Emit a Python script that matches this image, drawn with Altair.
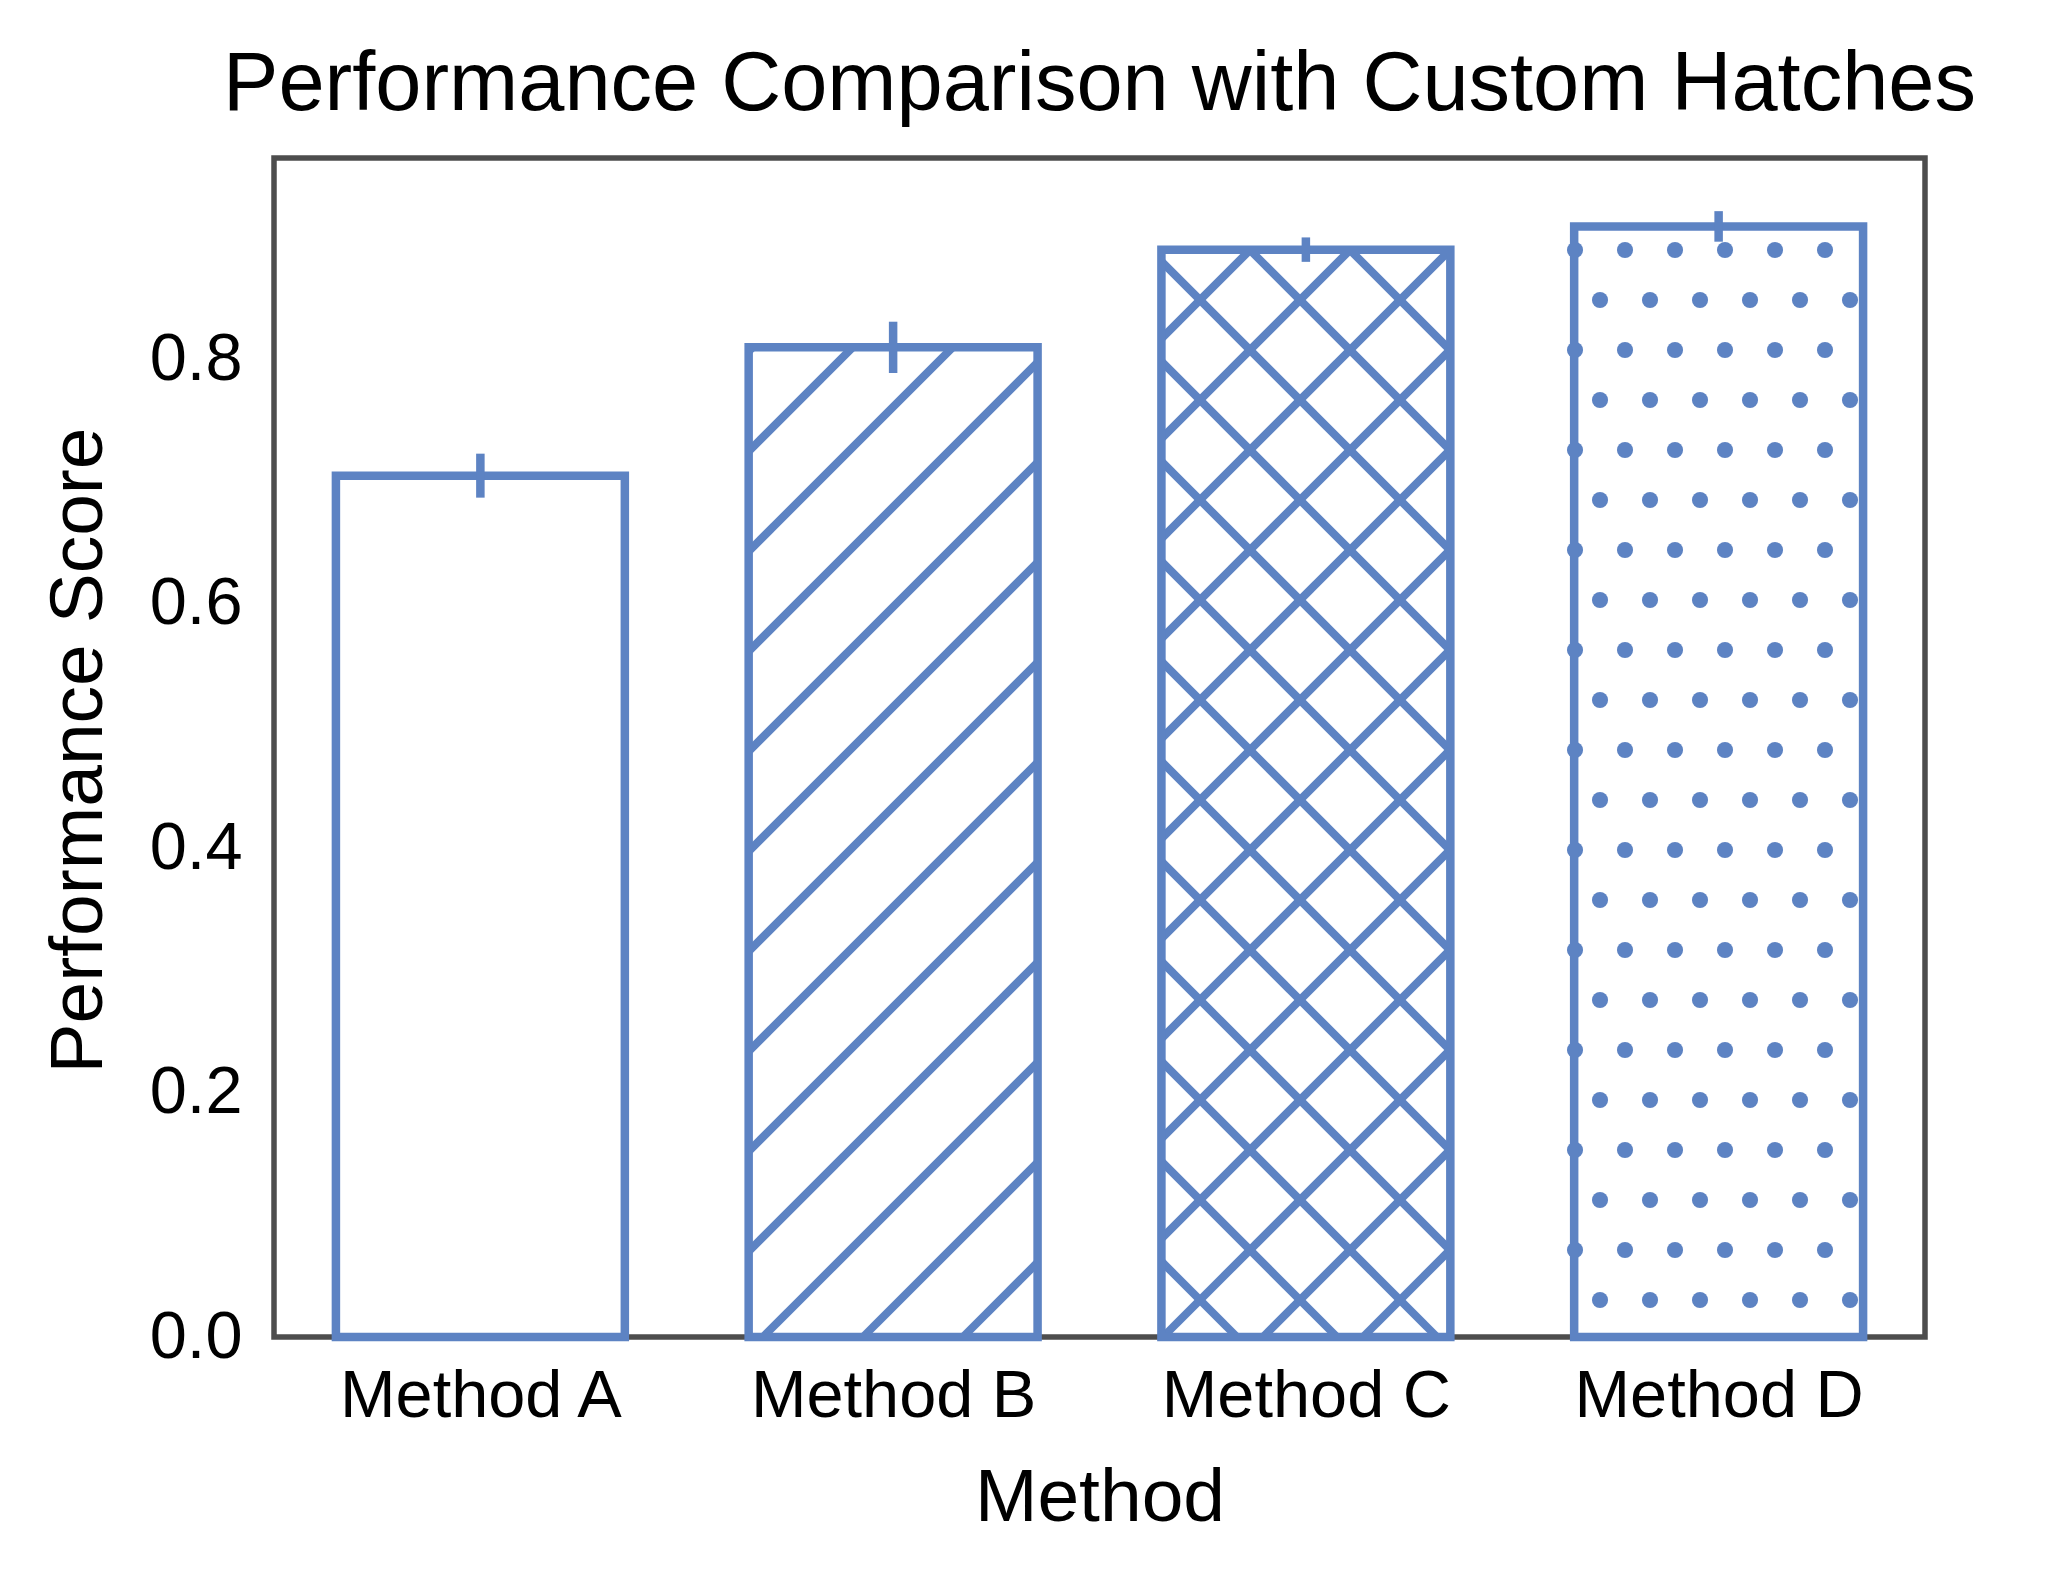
import math
import altair as alt
import pandas as pd

# ---------------- data ----------------
methods = ["Method A", "Method B", "Method C", "Method D"]
scores = [0.705, 0.81, 0.89, 0.909]
errors = [0.018, 0.021, 0.010, 0.0125]
hatches = ["", "/", "x", "."]
y_ticks = [0.0, 0.2, 0.4, 0.6, 0.8]

# ---------------- style / layout ----------------
BLUE = "#5d83c3"
FRAME = "#4d4d4d"
FONT = "Liberation Sans"
W, H = 1651, 1179
PAD_L, PAD_T = 266, 150
OX, OY = PAD_L + 8, PAD_T + 8          # page offset of the plot area (pattern phase)
X_DOM = [-0.5, 3.5]
Y_DOM = [0.0, 0.965]
BAR_W = 0.7
HATCH_STEP = 100   # px between hatch lines
DOT_STEP = 50      # px between dots
EDGE_W = 8.5
HATCH_W = 8.0
DOT_AREA = 260


def px_x(v):
    return (v - X_DOM[0]) / (X_DOM[1] - X_DOM[0]) * W


def px_y(v):
    return H - (v - Y_DOM[0]) / (Y_DOM[1] - Y_DOM[0]) * H


def dat_x(p):
    return X_DOM[0] + p / W * (X_DOM[1] - X_DOM[0])


def dat_y(p):
    return Y_DOM[0] + (H - p) / H * (Y_DOM[1] - Y_DOM[0])


bars = pd.DataFrame({
    "method": methods,
    "xc": list(range(len(methods))),
    "x0": [i - BAR_W / 2 for i in range(len(methods))],
    "x1": [i + BAR_W / 2 for i in range(len(methods))],
    "score": scores,
    "base": [0.0] * len(methods),
    "lo": [s - e for s, e in zip(scores, errors)],
    "hi": [s + e for s, e in zip(scores, errors)],
})

# hatch geometry derived from each bar's rectangle (pattern in pixel space)
segs = []
dots = []
for i, (s, h) in enumerate(zip(scores, hatches)):
    x0, x1 = px_x(i - BAR_W / 2), px_x(i + BAR_W / 2)
    y0, y1 = px_y(s), px_y(0.0)
    if "/" in h or "x" in h:
        kmin = math.ceil((x0 + y0 + OX + OY) / HATCH_STEP)
        kmax = math.floor((x1 + y1 + OX + OY) / HATCH_STEP)
        for k in range(kmin, kmax + 1):
            c = k * HATCH_STEP - OX - OY       # px + py = c
            xs, xe = max(x0, c - y1), min(x1, c - y0)
            if xe - xs > 0.5:
                segs.append({"x": dat_x(xs), "y": dat_y(c - xs),
                             "x2": dat_x(xe), "y2": dat_y(c - xe)})
    if "x" in h:
        kmin = math.ceil((y0 - x1 + OY - OX) / HATCH_STEP)
        kmax = math.floor((y1 - x0 + OY - OX) / HATCH_STEP)
        for k in range(kmin, kmax + 1):
            c = k * HATCH_STEP - OY + OX       # py - px = c
            xs, xe = max(x0, y0 - c), min(x1, y1 - c)
            if xe - xs > 0.5:
                segs.append({"x": dat_x(xs), "y": dat_y(xs + c),
                             "x2": dat_x(xe), "y2": dat_y(xe + c)})
    if "." in h:
        jmin = math.ceil((y0 + OY) / DOT_STEP)
        jmax = math.floor((y1 + OY) / DOT_STEP)
        for j in range(jmin, jmax + 1):
            gy = j * DOT_STEP
            off = DOT_STEP / 2 if j % 2 else 0
            imin = math.ceil((x0 + OX - off) / DOT_STEP)
            imax = math.floor((x1 + OX - off) / DOT_STEP)
            for ii in range(imin, imax + 1):
                gx = ii * DOT_STEP + off
                dots.append({"x": dat_x(gx - OX), "y": dat_y(gy - OY)})

seg_df = pd.DataFrame(segs)
dot_df = pd.DataFrame(dots)

label_expr = "[" + ",".join("'" + m + "'" for m in methods) + "][datum.value]"

xscale = alt.Scale(domain=X_DOM, nice=False, zero=False)
yscale = alt.Scale(domain=Y_DOM, nice=False, zero=False)

x_axis = alt.Axis(
    values=list(range(len(methods))), labelExpr=label_expr, labelAngle=0,
    labelFont=FONT, labelFontSize=66.7, labelColor="black", labelLimit=0,
    labelBaseline="alphabetic", labelPadding=79, labelFlush=False,
    labelOverlap=False,
    ticks=False, tickSize=0, domain=False, grid=False,
    title="Method", titleFont=FONT, titleFontSize=75, titleFontWeight="normal",
    titleColor="black", titleBaseline="alphabetic", titleY=183,
)
y_axis = alt.Axis(
    values=y_ticks, format=".1f",
    labelFont=FONT, labelFontSize=66.7, labelColor="black",
    labelPadding=32, labelFlush=False, labelOverlap=False,
    ticks=False, tickSize=0, domain=False, grid=False,
    title="Performance Score", titleFont=FONT, titleFontSize=75,
    titleFontWeight="normal", titleColor="black", titleAngle=270,
    titleBaseline="alphabetic", titleAlign="center", titleX=-173, titleY=592,
)

fill = alt.Chart(bars).mark_rect(fill="white", strokeWidth=0).encode(
    x=alt.X("x0:Q", scale=xscale, axis=x_axis),
    x2="x1:Q",
    y=alt.Y("score:Q", scale=yscale, axis=y_axis),
    y2="base:Q",
)

hatch_lines = alt.Chart(seg_df).mark_rule(
    color=BLUE, strokeWidth=HATCH_W, strokeCap="butt"
).encode(
    x=alt.X("x:Q", scale=xscale, axis=x_axis),
    y=alt.Y("y:Q", scale=yscale, axis=y_axis),
    x2="x2:Q",
    y2="y2:Q",
)

hatch_dots = alt.Chart(dot_df).mark_circle(
    color=BLUE, size=DOT_AREA, opacity=1
).encode(
    x=alt.X("x:Q", scale=xscale, axis=x_axis),
    y=alt.Y("y:Q", scale=yscale, axis=y_axis),
)

outline = alt.Chart(bars).mark_rect(
    fill="white", fillOpacity=0, stroke=BLUE, strokeWidth=EDGE_W, strokeJoin="miter"
).encode(
    x=alt.X("x0:Q", scale=xscale, axis=x_axis),
    x2="x1:Q",
    y=alt.Y("score:Q", scale=yscale, axis=y_axis),
    y2="base:Q",
)

err = alt.Chart(bars).mark_rule(color=BLUE, strokeWidth=EDGE_W, strokeCap="butt").encode(
    x=alt.X("xc:Q", scale=xscale, axis=x_axis),
    y=alt.Y("lo:Q", scale=yscale, axis=y_axis),
    y2="hi:Q",
)

chart = alt.layer(fill, hatch_lines, hatch_dots, outline, err).properties(
    width=W, height=H,
    title=alt.TitleParams(
        "Performance Comparison with Custom Hatches", font=FONT, fontSize=83,
        fontWeight="normal", color="black", anchor="middle",
        baseline="alphabetic", offset=-35,
    ),
    autosize=alt.AutoSizeParams(type="none"),
    padding={"left": PAD_L, "top": PAD_T, "right": 2052 - PAD_L - W, "bottom": 200},
).configure_view(stroke=FRAME, strokeWidth=5.5)

chart.save("out.html", embed_options={"renderer": "svg", "actions": False})
